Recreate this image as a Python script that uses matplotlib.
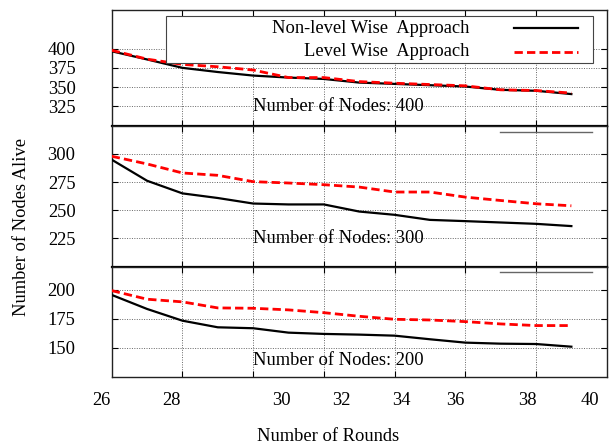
import matplotlib
matplotlib.use("Agg")
import matplotlib.pyplot as plt
from matplotlib.patches import Rectangle
from matplotlib.lines import Line2D

plt.rcParams['font.family'] = ['Liberation Serif', 'DejaVu Serif']

rounds = [26, 27, 28, 29, 30, 31, 32, 33, 34, 35, 36, 37, 38, 39]

nonlevel_400 = [396.5, 385.9, 375.0, 369.6, 365.0, 362.4, 360.6, 355.9, 354.2, 352.5, 350.8, 346.5, 345.3, 341.0]
level_400 = [397.8, 386.3, 379.5, 376.4, 372.2, 362.4, 362.4, 357.2, 355.1, 353.4, 351.7, 346.5, 345.6, 342.3]

nonlevel_300 = [294.9, 276.2, 265.0, 260.9, 256.0, 255.2, 255.2, 248.9, 246.0, 241.5, 240.4, 239.2, 238.0, 236.0]
level_300 = [297.9, 291.1, 283.1, 281.0, 275.4, 274.2, 272.7, 270.6, 266.2, 266.2, 261.7, 258.7, 255.8, 254.0]

nonlevel_200 = [195.7, 183.6, 173.5, 167.8, 167.0, 163.2, 162.1, 161.5, 160.6, 157.5, 154.6, 153.7, 153.4, 151.1]
level_200 = [199.4, 192.0, 189.7, 184.5, 184.2, 182.8, 180.4, 177.3, 174.7, 174.1, 172.7, 170.7, 169.3, 169.3]

panel_titles = ["Number of Nodes: 400", "Number of Nodes: 300", "Number of Nodes: 200"]
series_names = ["Non-level Wise  Approach", "Level Wise  Approach"]

yticks_400 = [325, 350, 375, 400]
yticks_300 = [225, 250, 275, 300]
yticks_200 = [150, 175, 200]
ylims = [(300, 450), (200, 325), (125, 220)]

x_tick_marks = [28, 30, 32, 34, 36, 38]
x_label_pos = [25.72, 27.70, 30.79, 32.48, 34.20, 35.73, 37.77, 39.53]
x_label_text = ["26", "28", "30", "32", "34", "36", "38", "40"]

FS = 13.3

fig = plt.figure(figsize=(6.11, 4.48), dpi=100)
left, right = 0.1828, 0.993
bounds = [(0.7194, 0.9777), (0.4047, 0.7194), (0.1585, 0.4047)]

data = [(nonlevel_400, level_400, yticks_400),
        (nonlevel_300, level_300, yticks_300),
        (nonlevel_200, level_200, yticks_200)]
title_y = [0.164, 0.201, 0.145]

axes = []
for i, ((b, t), (nl, lv, yt)) in enumerate(zip(bounds, data)):
    ax = fig.add_axes([left, b, right - left, t - b])
    axes.append(ax)
    ax.plot(rounds, nl, color='black', lw=1.6, solid_joinstyle='miter', zorder=3)
    ax.plot(rounds, lv, color='#ff0000', lw=2.0, dashes=(3, 1.5), zorder=3)
    ax.set_xlim(26, 40)
    ax.set_ylim(*ylims[i])
    ax.set_yticks(yt)
    ax.set_xticks(x_tick_marks)
    ax.set_xticklabels([])
    ax.grid(True, color='#666666', linestyle=(0, (1, 1.5)), lw=0.7)
    ax.tick_params(axis='both', direction='in', length=4, width=0.8,
                   top=True, right=True, labelsize=FS)
    ax.tick_params(axis='y', pad=26)
    for s in ax.spines.values():
        s.set_color('#222222')
        s.set_linewidth(1.0)
    ax.text(0.457, title_y[i], panel_titles[i], transform=ax.transAxes,
            ha='center', va='center', fontsize=FS, zorder=4)
    if i > 0:
        ax.plot([0.784, 0.970], [0.955 if i == 1 else 0.949] * 2, transform=ax.transAxes,
                color='#666666', lw=1.0, zorder=4)
    if i < 2:
        ax.spines['bottom'].set_linewidth(1.6)
        ax.spines['bottom'].set_color('black')

# legend drawn in top panel
ax0 = axes[0]
rect = Rectangle((0.109, 0.539), 0.972 - 0.109, 0.951 - 0.539, transform=ax0.transAxes,
                 facecolor='white', edgecolor='#444444', lw=0.8, zorder=5)
ax0.add_patch(rect)
ax0.text(0.722, 0.842, series_names[0], transform=ax0.transAxes, ha='right', va='center',
         fontsize=FS, zorder=6)
ax0.text(0.722, 0.640, series_names[1], transform=ax0.transAxes, ha='right', va='center',
         fontsize=FS, zorder=6)
ax0.add_line(Line2D([0.813, 0.941], [0.842, 0.842], transform=ax0.transAxes,
                    color='black', lw=1.6, zorder=6))
ax0.add_line(Line2D([0.813, 0.941], [0.640, 0.640], transform=ax0.transAxes,
                    color='#ff0000', lw=2.0, dashes=(3, 1.5), zorder=6))

# x tick labels (placed as in the original)
ax3 = axes[2]
for xp, lab in zip(x_label_pos, x_label_text):
    ax3.text(xp, -0.215, lab, transform=ax3.get_xaxis_transform(), ha='center', va='center',
             fontsize=FS, clip_on=False)

fig.text(0.537, 0.025, "Number of Rounds", ha='center', va='center', fontsize=FS)
fig.text(0.0355, 0.494, "Number of Nodes Alive", ha='center', va='center', rotation=90, fontsize=FS)

fig.savefig("out.png", dpi=100)
